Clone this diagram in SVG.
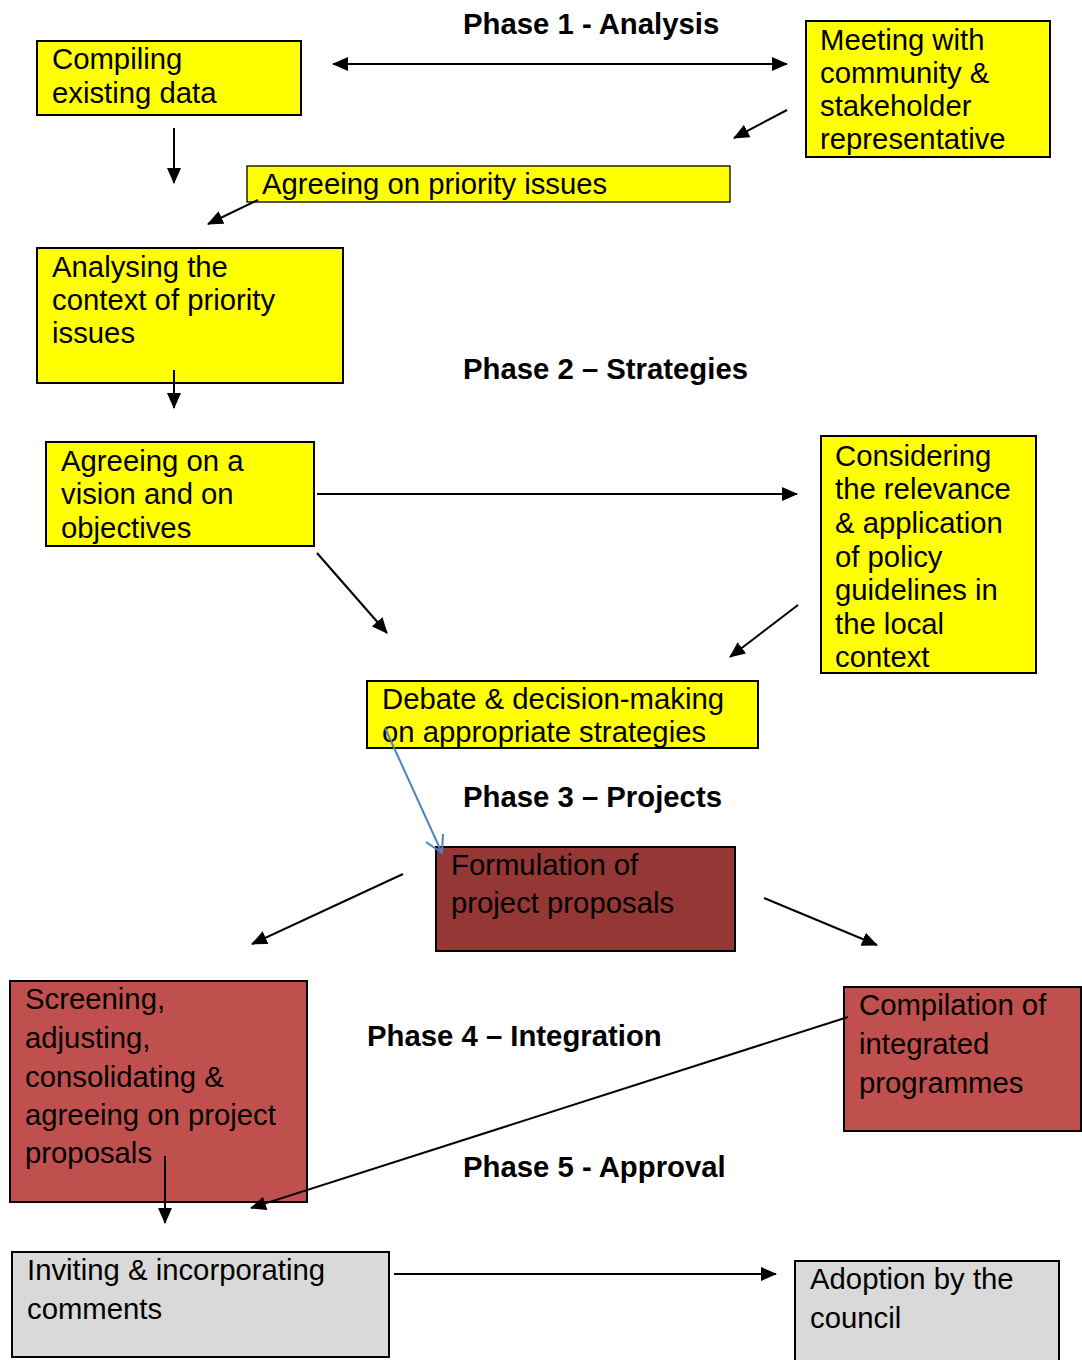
<svg xmlns="http://www.w3.org/2000/svg" width="1082" height="1360" viewBox="0 0 1082 1360">
<defs>
<marker id="ah" markerUnits="userSpaceOnUse" markerWidth="16" markerHeight="14" viewBox="0 0 16 14" refX="15" refY="7" orient="auto-start-reverse">
<path d="M0,0 L16,7 L0,14 z" fill="#000"/>
</marker>
<style>
.box{stroke:#000;stroke-width:2}
.y{fill:#FFFF00}
.dr{fill:#953735}
.r{fill:#C0504D}
.g{fill:#D9D9D9}
.t{font-family:"Liberation Sans",Arial,sans-serif;font-size:29.3px;fill:#000}
.ph{font-family:"Liberation Sans",Arial,sans-serif;font-size:29.3px;font-weight:bold;fill:#000}
.c{stroke:#000;stroke-width:2;fill:none;marker-end:url(#ah)}
</style>
</defs>
<rect width="1082" height="1360" fill="#fff"/>

<g id="phase-labels">
<text class="ph" x="463" y="34">Phase 1 - Analysis</text>
<text class="ph" x="463" y="379">Phase 2 – Strategies</text>
<text class="ph" x="463" y="807">Phase 3 – Projects</text>
<text class="ph" x="367" y="1046">Phase 4 – Integration</text>
<text class="ph" x="463" y="1177">Phase 5 - Approval</text>
</g>

<g id="node-compiling">
<rect class="box y" x="37" y="41" width="264" height="74"/>
<text class="t" x="52" y="69">Compiling</text>
<text class="t" x="52" y="103">existing data</text>
</g>

<g id="node-meeting">
<rect class="box y" x="806" y="21" width="244" height="136"/>
<text class="t" x="820" y="50">Meeting with</text>
<text class="t" x="820" y="83">community &amp;</text>
<text class="t" x="820" y="116">stakeholder</text>
<text class="t" x="820" y="149">representative</text>
</g>

<g id="node-priority">
<rect class="y" x="247" y="166" width="483" height="36" stroke="#000" stroke-width="1.3"/>
<text class="t" x="262" y="194">Agreeing on priority issues</text>
</g>

<g id="node-analysing">
<rect class="box y" x="37" y="248" width="306" height="135"/>
<text class="t" x="52" y="277">Analysing the</text>
<text class="t" x="52" y="310">context of priority</text>
<text class="t" x="52" y="343">issues</text>
</g>

<g id="node-vision">
<rect class="box y" x="46" y="442" width="268" height="104"/>
<text class="t" x="61" y="471">Agreeing on a</text>
<text class="t" x="61" y="504">vision and on</text>
<text class="t" x="61" y="538">objectives</text>
</g>

<g id="node-considering">
<rect class="box y" x="821" y="436" width="215" height="237"/>
<text class="t" x="835" y="466">Considering</text>
<text class="t" x="835" y="499">the relevance</text>
<text class="t" x="835" y="533">&amp; application</text>
<text class="t" x="835" y="567">of policy</text>
<text class="t" x="835" y="600">guidelines in</text>
<text class="t" x="835" y="634">the local</text>
<text class="t" x="835" y="667">context</text>
</g>

<g id="node-debate">
<rect class="box y" x="367" y="681" width="391" height="67"/>
<text class="t" x="382" y="709">Debate &amp; decision-making</text>
<text class="t" x="382" y="742">on appropriate strategies</text>
</g>

<g id="node-formulation">
<rect class="box dr" x="436" y="847" width="299" height="104"/>
<text class="t" x="451" y="875">Formulation of</text>
<text class="t" x="451" y="913">project proposals</text>
</g>

<g id="node-screening">
<rect class="box r" x="10" y="981" width="297" height="221"/>
<text class="t" x="25" y="1009">Screening,</text>
<text class="t" x="25" y="1048">adjusting,</text>
<text class="t" x="25" y="1087">consolidating &amp;</text>
<text class="t" x="25" y="1125">agreeing on project</text>
<text class="t" x="25" y="1163">proposals</text>
</g>

<g id="node-compilation">
<rect class="box r" x="844" y="987" width="237" height="144"/>
<text class="t" x="859" y="1015">Compilation of</text>
<text class="t" x="859" y="1054">integrated</text>
<text class="t" x="859" y="1093">programmes</text>
</g>

<g id="node-inviting">
<rect class="box g" x="12" y="1252" width="377" height="105"/>
<text class="t" x="27" y="1280">Inviting &amp; incorporating</text>
<text class="t" x="27" y="1319">comments</text>
</g>

<g id="node-adoption">
<rect class="box g" x="795" y="1261" width="264" height="110"/>
<text class="t" x="810" y="1289">Adoption by the</text>
<text class="t" x="810" y="1328">council</text>
</g>

<g id="connectors">
<line class="c" x1="333" y1="64" x2="787" y2="64" marker-start="url(#ah)"/>
<line class="c" x1="174" y1="128" x2="174" y2="183"/>
<line class="c" x1="787" y1="110" x2="734" y2="138"/>
<line class="c" x1="258" y1="200" x2="208" y2="224"/>
<line class="c" x1="174" y1="370" x2="174" y2="408"/>
<line class="c" x1="317" y1="494" x2="797" y2="494"/>
<line class="c" x1="317" y1="553" x2="387" y2="633"/>
<line class="c" x1="798" y1="605" x2="730" y2="657"/>
<g stroke="#4F81BD" stroke-width="2" fill="none">
<line x1="385" y1="728" x2="442" y2="853"/>
<polyline points="426,842 442,853 443,834"/>
</g>
<line class="c" x1="403" y1="874" x2="252" y2="944"/>
<line class="c" x1="764" y1="898" x2="877" y2="945"/>
<line class="c" x1="848" y1="1017" x2="251" y2="1208"/>
<line class="c" x1="165" y1="1156" x2="165" y2="1223"/>
<line class="c" x1="394" y1="1274" x2="776" y2="1274"/>
</g>
</svg>
